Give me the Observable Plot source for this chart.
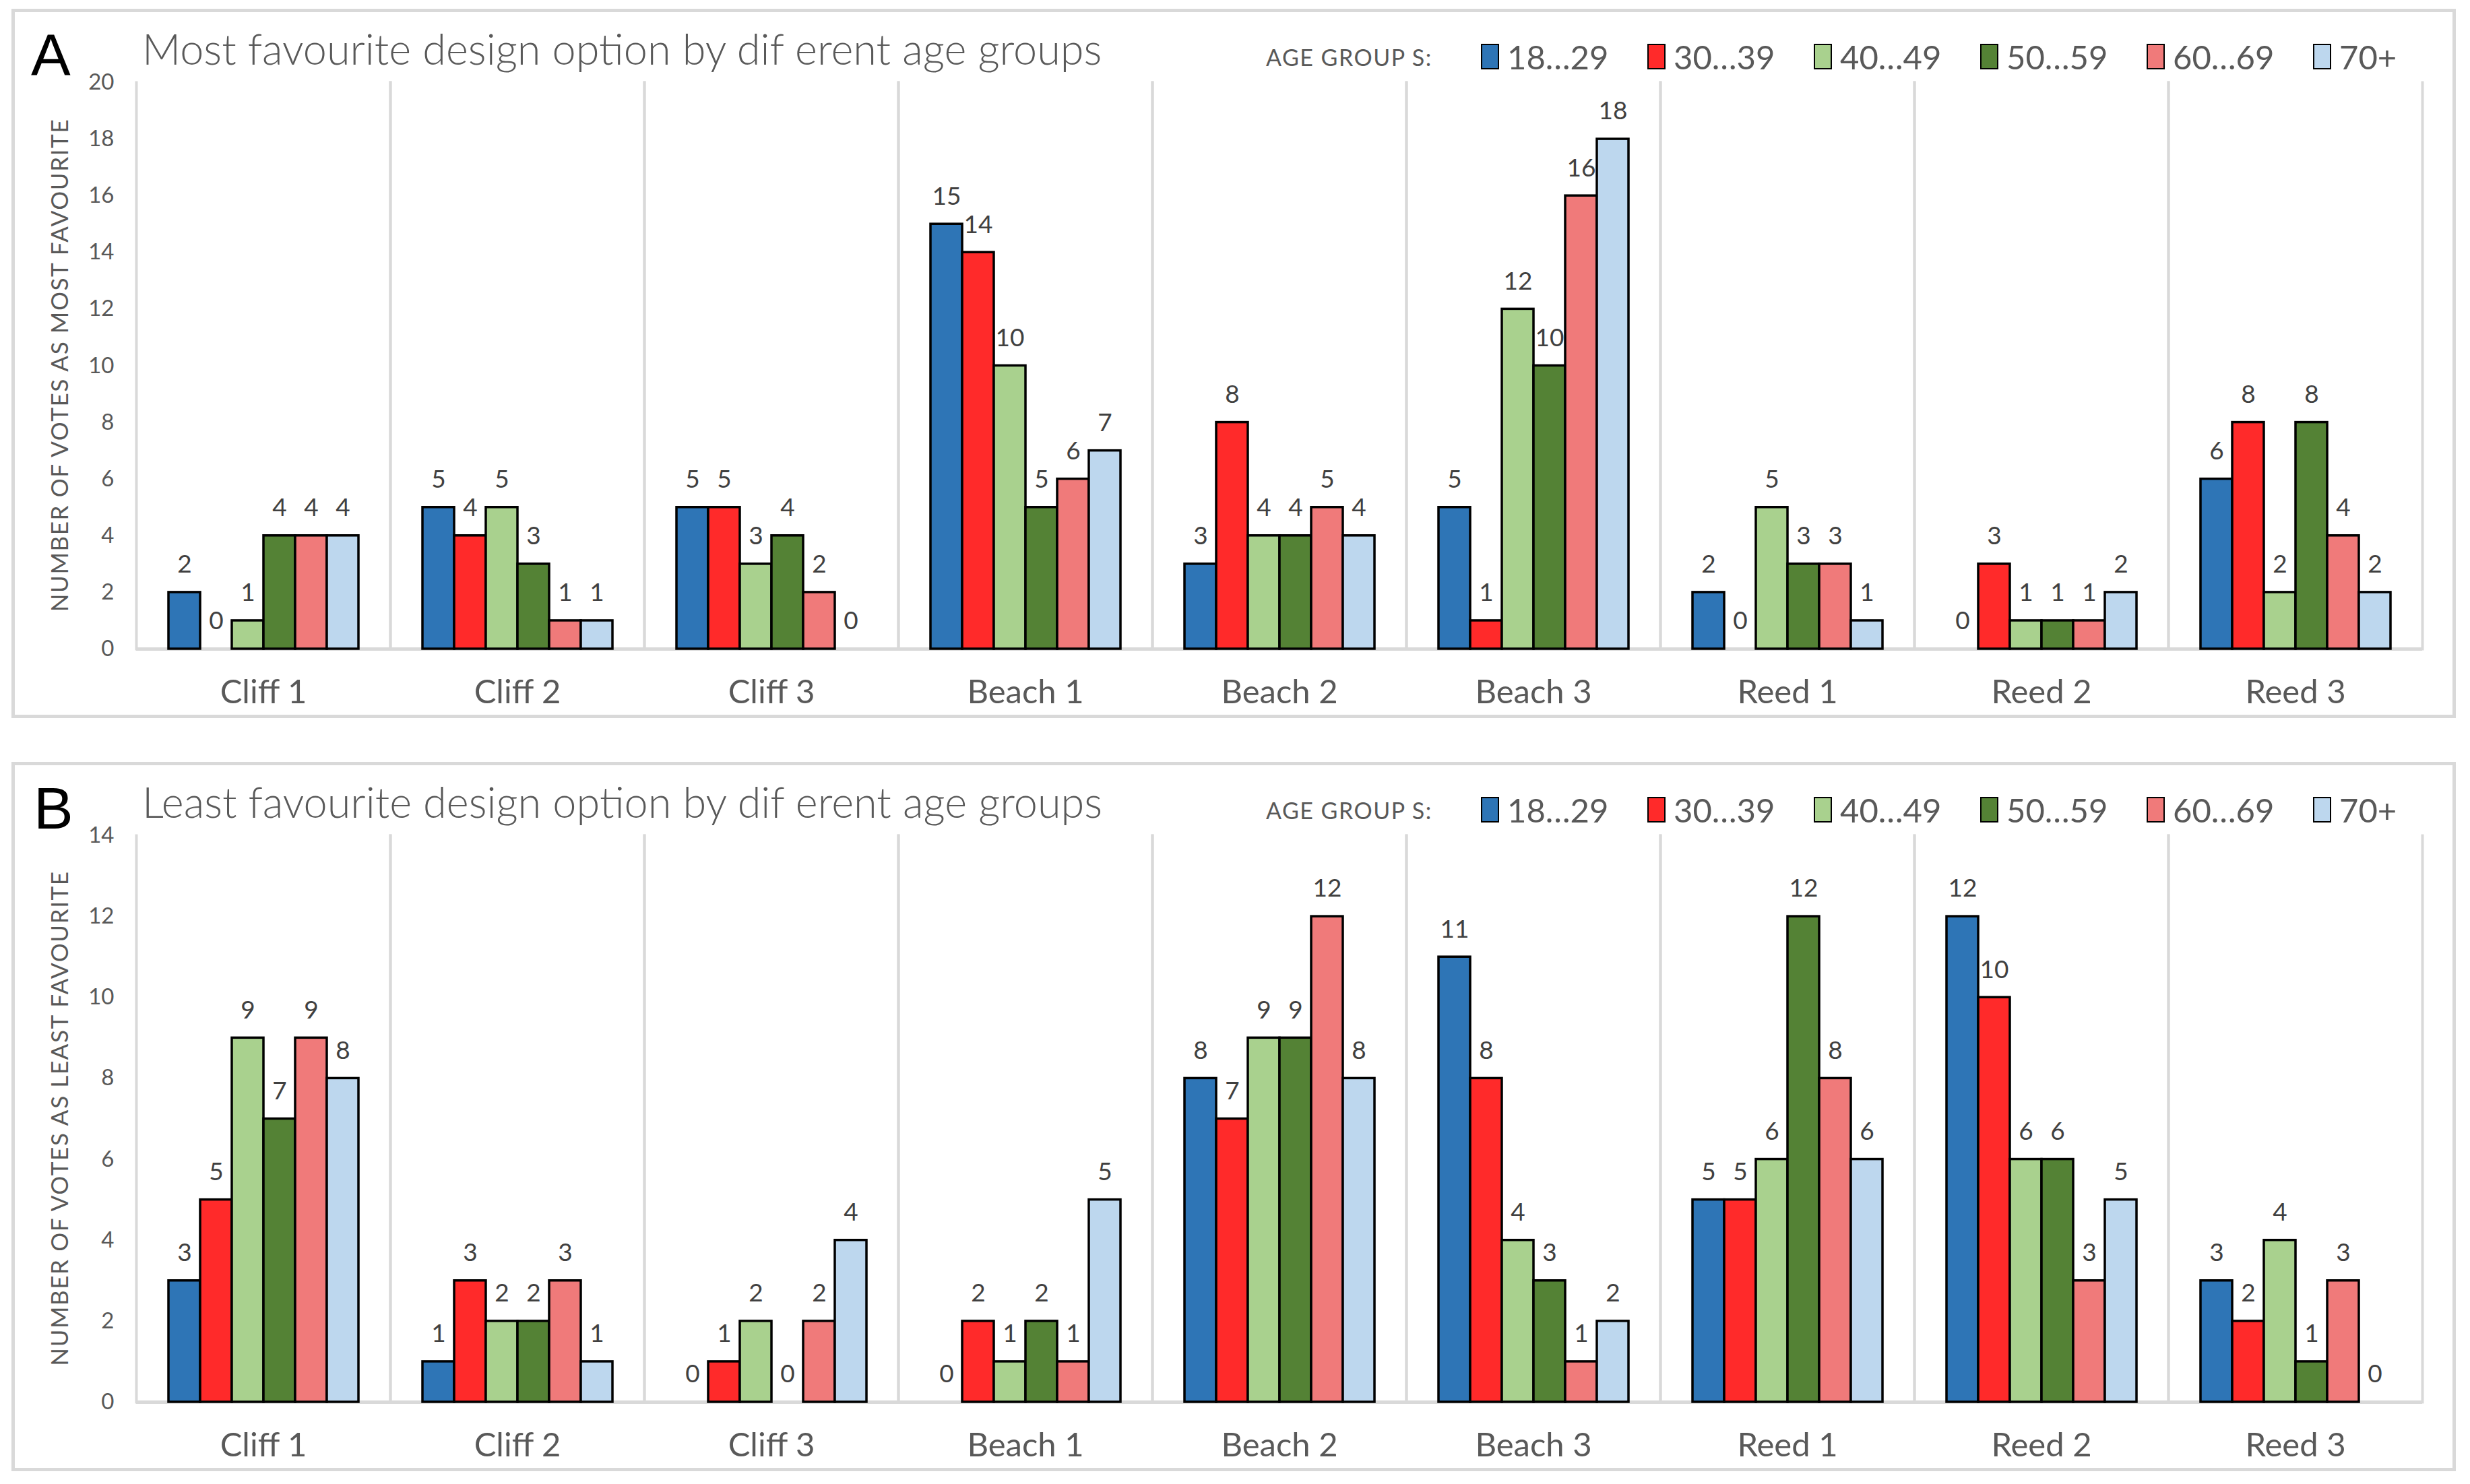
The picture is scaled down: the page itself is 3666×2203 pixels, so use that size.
<!DOCTYPE html>
<html>
<head>
<meta charset="utf-8">
<script src="https://cdn.jsdelivr.net/npm/d3@7"></script>
<script src="https://cdn.jsdelivr.net/npm/@observablehq/plot@0.6"></script>
<style>
  html, body { margin: 0; padding: 0; background: white; }
  #page { position: relative; width: 3666px; height: 2203px; font-family: Lato, "Open Sans", sans-serif; }
  .box { position: absolute; left: 17px; width: 3628px; box-sizing: border-box; border: 5px solid #d9d9d9; }
  .letter { position: absolute; font-family: "Liberation Sans", Arial, sans-serif; font-size: 88px; color: #000; line-height: 1; }
  .title { position: absolute; left: 211px; font-size: 63px; font-weight: 300; color: #595959; line-height: 1; white-space: nowrap; }
  .legend { position: absolute; left: 1879px; display: flex; align-items: center; color: #595959; white-space: nowrap; }
  .legend .lab { font-size: 34px; letter-spacing: 1.5px; width: 319px; }
  .legend .item { display: flex; align-items: center; width: 247px; font-size: 49px; }
  .legend .sw { width: 27px; height: 38px; box-sizing: border-box; border: 2px solid #000; margin-right: 12px; }
  .ytitle { position: absolute; font-size: 35px; letter-spacing: 1.6px; color: #595959; white-space: nowrap; transform: translate(-50%, -50%) rotate(-90deg); }
  .chart { position: absolute; left: 0; }
</style>
</head>
<body>
<div id="page"></div>
<script>
const categories = ["Cliff 1", "Cliff 2", "Cliff 3", "Beach 1", "Beach 2", "Beach 3", "Reed 1", "Reed 2", "Reed 3"];
const ageGroups = ["18…29", "30…39", "40…49", "50…59", "60…69", "70+"];
const ageColors = ["#2E75B6", "#FF2A2A", "#A9D18E", "#548235", "#F07A7A", "#BDD7EE"];

// votes per category, in ageGroups order
const mostFavourite = [
  [2, 0, 1, 4, 4, 4],
  [5, 4, 5, 3, 1, 1],
  [5, 5, 3, 4, 2, 0],
  [15, 14, 10, 5, 6, 7],
  [3, 8, 4, 4, 5, 4],
  [5, 1, 12, 10, 16, 18],
  [2, 0, 5, 3, 3, 1],
  [0, 3, 1, 1, 1, 2],
  [6, 8, 2, 8, 4, 2]
];
const leastFavourite = [
  [3, 5, 9, 7, 9, 8],
  [1, 3, 2, 2, 3, 1],
  [0, 1, 2, 0, 2, 4],
  [0, 2, 1, 2, 1, 5],
  [8, 7, 9, 9, 12, 8],
  [11, 8, 4, 3, 1, 2],
  [5, 5, 6, 12, 8, 6],
  [12, 10, 6, 6, 3, 5],
  [3, 2, 4, 1, 3, 0]
];
const panelLetters = ["A", "B"];
const panelTitles = ["Most favourite design option by dif erent age groups", "Least favourite design option by dif erent age groups"];
const yTitles = ["NUMBER OF VOTES AS MOST FAVOURITE", "NUMBER OF VOTES AS LEAST FAVOURITE"];
const yMaxes = [20, 14];
const legendLabel = "AGE GROUP S:";

const page = document.getElementById("page");
const panelStep = 1118;

function toTable(matrix) {
  return matrix.flatMap((row, i) => row.map((v, j) => ({cat: categories[i], age: ageGroups[j], value: v})));
}

function addPanel(k, matrix) {
  const off = k * panelStep;
  const box = document.createElement("div");
  box.className = "box";
  box.style.top = (13 + off) + "px";
  box.style.height = (1053) + "px";
  page.appendChild(box);

  const data = toTable(matrix);
  const yMax = yMaxes[k];
  const chart = Plot.plot({
    width: 3666,
    height: 1066,
    marginLeft: 201,
    marginRight: 70,
    marginTop: 122,
    marginBottom: 103,
    style: {background: "transparent", color: "#595959", fontFamily: "Lato, 'Open Sans', sans-serif", maxWidth: "none"},
    fx: {domain: categories, padding: 0, label: null},
    x: {domain: ageGroups, paddingInner: 0, paddingOuter: 0.96, axis: null},
    y: {domain: [0, yMax], label: null},
    color: {domain: ageGroups, range: ageColors},
    marks: [
      Plot.frame({anchor: "left", stroke: "#d9d9d9", strokeWidth: 4, strokeOpacity: 1}),
      Plot.frame({anchor: "right", stroke: "#d9d9d9", strokeWidth: 4, strokeOpacity: 1}),
      Plot.ruleY([0], {stroke: "#d9d9d9", strokeWidth: 5}),
      Plot.axisY({ticks: d3.range(0, yMax + 1, 2), tickSize: 0, tickPadding: 33, fontSize: 33, label: null}),
      Plot.axisFx({anchor: "bottom", tickSize: 0, tickPadding: 46, fontSize: 49, label: null}),
      Plot.barY(data.filter(d => d.value > 0), {fx: "cat", x: "age", y: "value", fill: "age", stroke: "#000", strokeWidth: 3.5}),
      Plot.text(data, {fx: "cat", x: "age", y: "value", text: d => String(d.value), dy: -41, fontSize: 37, fill: "#404040", lineAnchor: "middle"})
    ]
  });
  chart.classList.add("chart");
  chart.style.top = off + "px";
  page.appendChild(chart);

  const letter = document.createElement("div");
  letter.className = "letter";
  letter.textContent = panelLetters[k];
  letter.style.left = (46 + (k ? 4 : 0)) + "px";
  letter.style.top = (38 + off) + "px";
  page.appendChild(letter);

  const title = document.createElement("div");
  title.className = "title";
  title.textContent = panelTitles[k];
  title.style.top = (40 + off) + "px";
  page.appendChild(title);

  const legend = document.createElement("div");
  legend.className = "legend";
  legend.style.top = (55 + off) + "px";
  const lab = document.createElement("div");
  lab.className = "lab";
  lab.textContent = legendLabel;
  legend.appendChild(lab);
  ageGroups.forEach((g, i) => {
    const item = document.createElement("div");
    item.className = "item";
    const sw = document.createElement("div");
    sw.className = "sw";
    sw.style.background = ageColors[i];
    const t = document.createElement("span");
    t.textContent = g;
    item.appendChild(sw);
    item.appendChild(t);
    legend.appendChild(item);
  });
  page.appendChild(legend);

  const yt = document.createElement("div");
  yt.className = "ytitle";
  yt.textContent = yTitles[k];
  yt.style.left = "87px";
  yt.style.top = (542 + off) + "px";
  page.appendChild(yt);
}

addPanel(0, mostFavourite);
addPanel(1, leastFavourite);
</script>
</body>
</html>
